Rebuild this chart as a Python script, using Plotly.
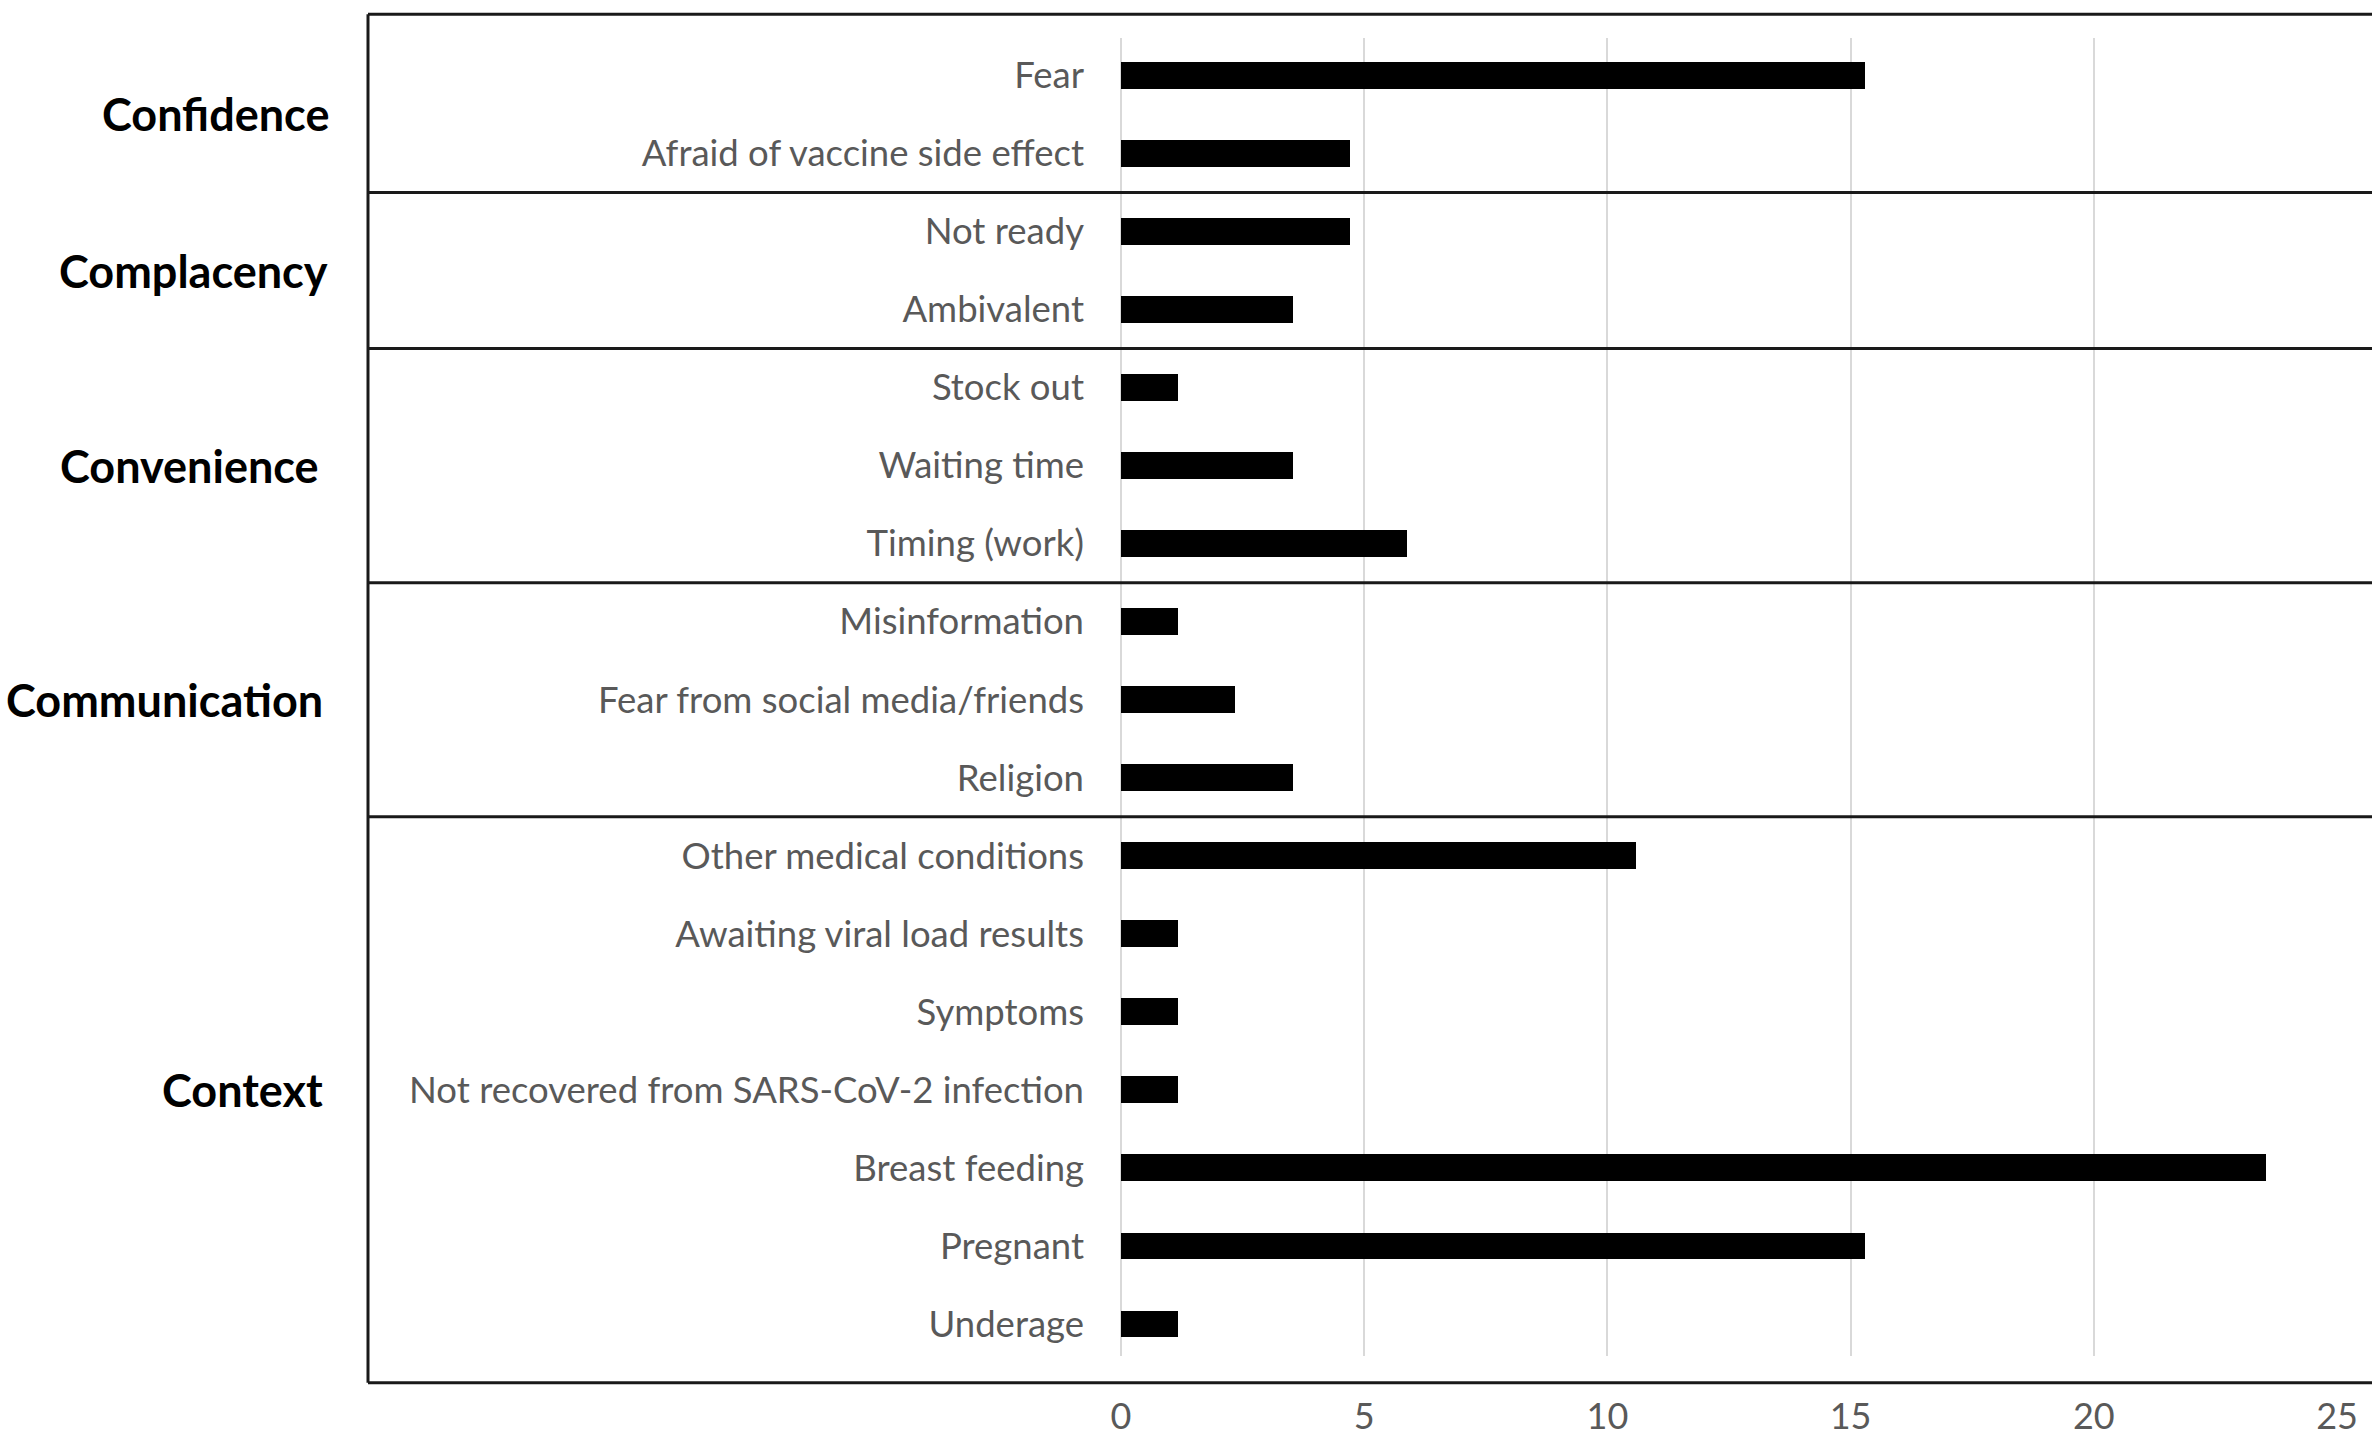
import plotly.graph_objects as go

# ---- data ----
categories = [
    "Fear", "Afraid of vaccine side effect",
    "Not ready", "Ambivalent",
    "Stock out", "Waiting time", "Timing (work)",
    "Misinformation", "Fear from social media/friends", "Religion",
    "Other medical conditions", "Awaiting viral load results", "Symptoms",
    "Not recovered from SARS-CoV-2 infection", "Breast feeding", "Pregnant", "Underage",
]
values = [15.29, 4.71, 4.71, 3.53, 1.18, 3.53, 5.88, 1.18, 2.35, 3.53,
          10.59, 1.18, 1.18, 1.18, 23.53, 15.29, 1.18]
groups = ["Confidence", "Complacency", "Convenience", "Communication", "Context"]
group_sizes = [2, 2, 3, 3, 7]
x_ticks = [0, 5, 10, 15, 20, 25]

# ---- layout constants (pixels) ----
W, H = 2372, 1449
L, R, T, B = 1121, 35, 38, 80
plot_w = W - L - R
plot_h = H - T - B
frame_left_px, frame_top_px, frame_bottom_px = 368, 14, 1396
group_label_right_px = [331, 330, 321, 325, 325]

def px_x(px):
    return (px - L) / plot_w

def px_y(py):
    return (H - B - py) / plot_h

idx = list(range(len(categories)))

fig = go.Figure()
fig.add_trace(go.Bar(
    x=values, y=idx, orientation="h",
    marker=dict(color="black", line=dict(width=0)),
    width=0.345, hoverinfo="x+text", text=categories, textposition="none",
))

shapes = []
line_style = dict(color="#1a1a1a", width=3)
fl, fr = px_x(frame_left_px), px_x(W + 20)
ft, fb = px_y(frame_top_px), px_y(frame_bottom_px)
shapes.append(dict(type="line", xref="paper", yref="paper", x0=fl, x1=fr, y0=ft, y1=ft, line=line_style))
shapes.append(dict(type="line", xref="paper", yref="paper", x0=fl, x1=fr, y0=fb, y1=fb, line=line_style))
shapes.append(dict(type="line", xref="paper", yref="paper", x0=fl, x1=fl, y0=fb, y1=ft, line=line_style))

annotations = []
start = 0
for g, n, rx in zip(groups, group_sizes, group_label_right_px):
    end = start + n
    if end < len(categories):
        ysep = end - 0.5
        shapes.append(dict(type="line", xref="paper", yref="y", x0=fl, x1=fr, y0=ysep, y1=ysep, line=line_style))
    ymid = (start + end - 1) / 2
    annotations.append(dict(
        text="<b>" + g + "</b>", xref="paper", yref="y", x=px_x(rx), y=ymid,
        xanchor="right", yanchor="middle", showarrow=False,
        font=dict(family="Lato", size=45, color="black"),
    ))
    start = end

fig.update_layout(
    width=W, height=H, autosize=False,
    margin=dict(l=L, r=R, t=T, b=B),
    paper_bgcolor="white", plot_bgcolor="white",
    showlegend=False, bargap=0,
    shapes=shapes, annotations=annotations,
    xaxis=dict(
        range=[0, 25], tickvals=x_ticks, ticktext=[str(v) for v in x_ticks],
        showgrid=True, gridcolor="#d9d9d9", gridwidth=2,
        zeroline=True, zerolinecolor="#d9d9d9", zerolinewidth=2,
        showline=False, ticks="",
        tickfont=dict(family="Lato", size=36, color="#595959"),
        ticklabelstandoff=36,
    ),
    yaxis=dict(
        range=[16.41, -0.48], tickvals=idx, ticktext=categories,
        showgrid=False, zeroline=False, showline=False, ticks="",
        tickfont=dict(family="Lato", size=36.5, color="#595959"),
        ticklabelstandoff=36,
    ),
)

page_fix = (
    "document.documentElement.style.margin='0';"
    "document.documentElement.style.overflow='hidden';"
    "document.body.style.margin='0';"
    "document.body.style.overflow='hidden';"
)

fig.write_html("out.html", config={"displayModeBar": False}, post_script=page_fix)
